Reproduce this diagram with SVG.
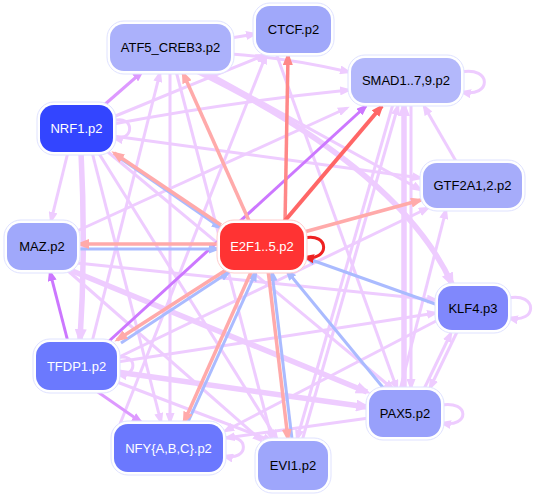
<svg xmlns="http://www.w3.org/2000/svg" width="538" height="494" viewBox="0 0 538 494">
<defs>
<style>
.e{fill:none;stroke:#eeccff;stroke-width:3}
.t{stroke-width:5.5}
.p{stroke:#dd99ff}
.pp{stroke:#cc77ff}
.r1{stroke:#ff6666;stroke-width:4}
.r2{stroke:#ff8888;stroke-width:3.5}
.r3{stroke:#ffaaaa;stroke-width:3.5}
.b{stroke:#aabbff}
.rl{stroke:#ee2222}
.o{fill:#ffffff;stroke:#dfe2ff;stroke-width:1}
.lab{font-family:"Liberation Sans",Arial,sans-serif;font-size:13px;text-anchor:middle}
.w{fill:#ffffff}
.k{fill:#000000}
</style>
<marker id="aL" markerUnits="userSpaceOnUse" viewBox="0 0 12 9" markerWidth="12" markerHeight="9" refX="9" refY="4.5" orient="auto"><path d="M0,0 L12,4.5 L0,9 z" fill="#eeccff"/></marker>
<marker id="aT" markerUnits="userSpaceOnUse" viewBox="0 0 15 12" markerWidth="15" markerHeight="12" refX="11" refY="6" orient="auto"><path d="M0,0 L15,6 L0,12 z" fill="#eeccff"/></marker>
<marker id="aP" markerUnits="userSpaceOnUse" viewBox="0 0 12 9" markerWidth="12" markerHeight="9" refX="9" refY="4.5" orient="auto"><path d="M0,0 L12,4.5 L0,9 z" fill="#dd99ff"/></marker>
<marker id="aPP" markerUnits="userSpaceOnUse" viewBox="0 0 12 9" markerWidth="12" markerHeight="9" refX="9" refY="4.5" orient="auto"><path d="M0,0 L12,4.5 L0,9 z" fill="#cc77ff"/></marker>
<marker id="aR1" markerUnits="userSpaceOnUse" viewBox="0 0 13 10" markerWidth="13" markerHeight="10" refX="10" refY="5" orient="auto"><path d="M0,0 L13,5 L0,10 z" fill="#ff6666"/></marker>
<marker id="aR2" markerUnits="userSpaceOnUse" viewBox="0 0 13 10" markerWidth="13" markerHeight="10" refX="10" refY="5" orient="auto"><path d="M0,0 L13,5 L0,10 z" fill="#ff8888"/></marker>
<marker id="aR3" markerUnits="userSpaceOnUse" viewBox="0 0 13 10" markerWidth="13" markerHeight="10" refX="10" refY="5" orient="auto"><path d="M0,0 L13,5 L0,10 z" fill="#ffaaaa"/></marker>
<marker id="aB" markerUnits="userSpaceOnUse" viewBox="0 0 12 9" markerWidth="12" markerHeight="9" refX="9" refY="4.5" orient="auto"><path d="M0,0 L12,4.5 L0,9 z" fill="#aabbff"/></marker>
<marker id="aRL" markerUnits="userSpaceOnUse" viewBox="0 0 12 9" markerWidth="12" markerHeight="9" refX="9" refY="4.5" orient="auto"><path d="M0,0 L12,4.5 L0,9 z" fill="#ee2222"/></marker>
</defs>
<rect width="538" height="494" fill="#ffffff"/>
<g id="connectors">
<path class="e" marker-end="url(#aL)" d="M231,38 L255,34"/>
<path class="e" marker-end="url(#aL)" d="M231,54 Q290,58 349,72"/>
<path class="e" marker-end="url(#aL)" d="M113,117 Q190,85 265,55"/>
<path class="e" marker-end="url(#aL)" d="M113,124 Q230,102 349,90"/>
<path class="e" marker-end="url(#aL)" d="M113,136 L421,178"/>
<path class="e" marker-end="url(#aL)" d="M113,121 C135,114 135,142 114,138"/>
<path class="e" marker-end="url(#aL)" d="M68,152 L51,221"/>
<path class="e t" marker-end="url(#aT)" d="M81,152 Q86,250 80,340"/>
<path class="e" marker-end="url(#aL)" d="M92,152 L161,422"/>
<path class="e" marker-end="url(#aL)" d="M98,152 L277,439"/>
<path class="e" marker-end="url(#aL)" d="M108,152 L393,389"/>
<path class="e" marker-end="url(#aL)" d="M170,71 L170,422"/>
<path class="e t" marker-end="url(#aT)" d="M197,71 Q400,170 452,284"/>
<path class="e" marker-end="url(#aL)" d="M205,71 L421,190"/>
<path class="e" marker-end="url(#aL)" d="M176,71 L272,439"/>
<path class="e" marker-end="url(#aL)" d="M92,342 L160,73"/>
<path class="e" marker-end="url(#aL)" d="M120,424 L266,55"/>
<path class="e" marker-end="url(#aL)" d="M276,53 L397,389"/>
<path class="e" marker-end="url(#aL)" d="M461,72 C492,66 492,98 462,92"/>
<path class="e t" marker-end="url(#aT)" d="M404,390 L404,105"/>
<path class="e" marker-end="url(#aL)" d="M411,103 L411,388"/>
<path class="e" marker-end="url(#aL)" d="M457,163 L424,106"/>
<path class="e" marker-end="url(#aL)" d="M302,441 L398,106"/>
<path class="e" marker-end="url(#aL)" d="M393,104 L297,439"/>
<path class="e" marker-end="url(#aL)" d="M77,231 L347,108"/>
<path class="e" marker-end="url(#aL)" d="M117,358 L428,208"/>
<path class="e" marker-end="url(#aL)" d="M400,390 L446,210"/>
<path class="e" marker-end="url(#aL)" d="M508,298 C538,292 538,324 509,318"/>
<path class="e" marker-end="url(#aL)" d="M424,389 L451,333"/>
<path class="e" marker-end="url(#aL)" d="M457,332 L430,388"/>
<path class="e" marker-end="url(#aL)" d="M77,263 L436,300"/>
<path class="e" marker-end="url(#aL)" d="M117,362 L436,313"/>
<path class="e" marker-end="url(#aL)" d="M438,320 L225,431"/>
<path class="e t" marker-end="url(#aT)" d="M70,270 L367,392"/>
<path class="e" marker-end="url(#aL)" d="M67,270 L262,441"/>
<path class="e" marker-end="url(#aL)" d="M117,358 C138,352 138,378 118,374"/>
<path class="e t" marker-end="url(#aT)" d="M117,372 L367,407"/>
<path class="e" marker-end="url(#aL)" d="M117,382 L272,441"/>
<path class="e" marker-end="url(#aL)" d="M223,438 C250,432 250,462 224,456"/>
<path class="e" marker-end="url(#aL)" d="M369,418 L226,438"/>
<path class="e" marker-end="url(#aL)" d="M441,405 C470,400 470,428 442,423"/>
<path class="e p" marker-end="url(#aP)" d="M103,106 L142,72"/>
<path class="e p" marker-end="url(#aP)" d="M95,390 L141,422"/>
<path class="e pp" marker-end="url(#aPP)" d="M68,342 L50,272"/>
<path class="e pp" stroke-width="2.5" marker-end="url(#aPP)" d="M108,342 L366,106"/>
<path class="e b" marker-end="url(#aB)" d="M117,156 L221,228"/>
<path class="e b" marker-end="url(#aB)" d="M77,249 L218,249"/>
<path class="e b" marker-end="url(#aB)" d="M121,343 L229,272"/>
<path class="e b" marker-end="url(#aB)" d="M188,422 L256,272"/>
<path class="e b" stroke-width="2" marker-end="url(#aB)" d="M292,439 L272,272"/>
<path class="e b" marker-end="url(#aB)" d="M438,305 L306,258"/>
<path class="e b" marker-end="url(#aB)" d="M385,390 L287,271"/>
<path class="e r3" marker-end="url(#aR3)" d="M250,223 L183,73"/>
<path class="e r3" marker-end="url(#aR3)" d="M221,225 L114,153"/>
<path class="e r3" marker-end="url(#aR3)" d="M220,244 L79,244"/>
<path class="e r3" marker-end="url(#aR3)" d="M226,270 L117,340"/>
<path class="e r3" marker-end="url(#aR3)" d="M252,270 L184,422"/>
<path class="e r3" marker-end="url(#aR3)" d="M268,270 L288,439"/>
<path class="e r3" marker-end="url(#aR3)" d="M304,232 L421,200"/>
<path class="e r2" marker-end="url(#aR2)" d="M285,223 L288,55"/>
<path class="e r1" marker-end="url(#aR1)" d="M283,223 L382,106"/>
<path class="e rl" marker-end="url(#aRL)" d="M304,238 C330,232 330,262 305,257"/>
</g>
<g id="ATF5_CREB3"><rect class="o" x="107" y="21" width="127" height="53" rx="17"/><rect x="110" y="24" width="121" height="47" rx="14" fill="#abb1fb"/><text class="lab k" x="170.5" y="52">ATF5_CREB3.p2</text></g>
<g id="CTCF"><rect class="o" x="253" y="3" width="81" height="53" rx="17"/><rect x="256" y="6" width="75" height="47" rx="14" fill="#a0a8fa"/><text class="lab k" x="293.5" y="34">CTCF.p2</text></g>
<g id="SMAD"><rect class="o" x="348" y="55" width="116" height="51" rx="17"/><rect x="351" y="58" width="110" height="45" rx="14" fill="#b3b8fb"/><text class="lab k" x="406" y="85">SMAD1..7,9.p2</text></g>
<g id="NRF1"><rect class="o" x="37" y="102" width="79" height="53" rx="17"/><rect x="40" y="105" width="73" height="47" rx="14" fill="#3345ff"/><text class="lab w" x="76.5" y="133">NRF1.p2</text></g>
<g id="GTF2A"><rect class="o" x="420" y="160" width="105" height="51" rx="17"/><rect x="423" y="163" width="99" height="45" rx="14" fill="#a6acfa"/><text class="lab k" x="472.5" y="190">GTF2A1,2.p2</text></g>
<g id="MAZ"><rect class="o" x="4" y="220" width="76" height="53" rx="17"/><rect x="7" y="223" width="70" height="47" rx="14" fill="#a0a8fb"/><text class="lab k" x="42" y="251">MAZ.p2</text></g>
<g id="E2F1"><rect x="217" y="220" width="90" height="53" rx="17" fill="#ffffff" stroke="#ffcccc" stroke-width="1"/><rect x="220" y="223" width="84" height="47" rx="14" fill="#ff3333"/><text class="lab w" x="262" y="251">E2F1..5.p2</text></g>
<g id="KLF4"><rect class="o" x="435" y="283" width="76" height="50" rx="17"/><rect x="438" y="286" width="70" height="44" rx="14" fill="#8088fc"/><text class="lab k" x="473" y="313">KLF4.p3</text></g>
<g id="TFDP1"><rect class="o" x="33" y="339" width="87" height="54" rx="17"/><rect x="36" y="342" width="81" height="48" rx="14" fill="#6b79fe"/><text class="lab w" x="76.5" y="371">TFDP1.p2</text></g>
<g id="NFY"><rect class="o" x="111" y="421" width="115" height="54" rx="17"/><rect x="114" y="424" width="109" height="48" rx="14" fill="#6b78fe"/><text class="lab w" x="168.5" y="453">NFY{A,B,C}.p2</text></g>
<g id="EVI1"><rect class="o" x="255" y="438" width="76" height="55" rx="17"/><rect x="258" y="441" width="70" height="49" rx="14" fill="#9ea6fb"/><text class="lab k" x="293" y="470">EVI1.p2</text></g>
<g id="PAX5"><rect class="o" x="366" y="387" width="78" height="53" rx="17"/><rect x="369" y="390" width="72" height="47" rx="14" fill="#98a0fb"/><text class="lab k" x="405" y="418">PAX5.p2</text></g>
</svg>
